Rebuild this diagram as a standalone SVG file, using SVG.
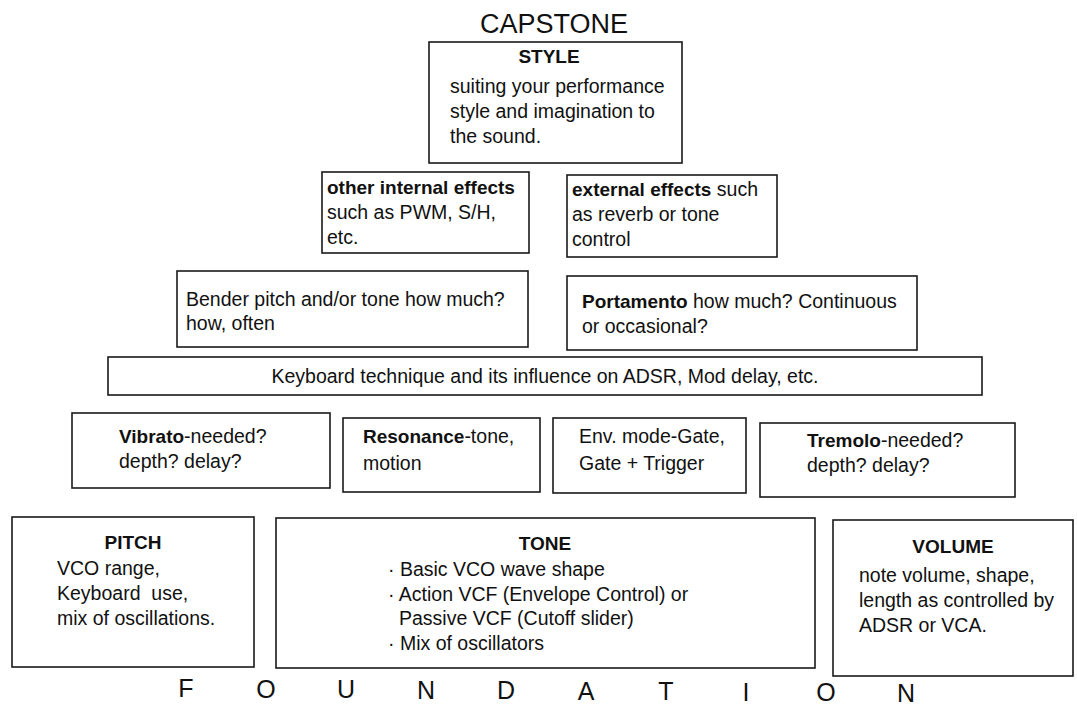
<svg xmlns="http://www.w3.org/2000/svg" width="1077" height="707" viewBox="0 0 1077 707">
<style>
  .box { fill: #fff; stroke: #1a1a1a; stroke-width: 1.6; }
  text { font-family: "Liberation Sans", Arial, sans-serif; fill: #111; }
  .t { font-size: 19.5px; }
  .b { font-size: 19px; font-weight: bold; }
  .c { text-anchor: middle; }
  .cap { font-size: 27px; }
  .f { font-size: 25px; text-anchor: middle; }
  .pre { white-space: pre; }
</style>
<rect width="1077" height="707" fill="#fff"/>
<text class="cap c" x="554" y="33">CAPSTONE</text>
<g id="connectors"></g>
<g id="style">
  <rect class="box" x="429" y="42" width="253" height="121"/>
  <text class="b c" x="549" y="63">STYLE</text>
  <text class="t" x="450" y="93">suiting your performance</text>
  <text class="t" x="450" y="118">style and imagination to</text>
  <text class="t" x="450" y="143">the sound.</text>
</g>
<g id="internal">
  <rect class="box" x="322" y="172" width="207" height="81"/>
  <text class="b" x="327" y="194">other internal effects</text>
  <text class="t" x="327" y="219">such as PWM, S/H,</text>
  <text class="t" x="327" y="244">etc.</text>
</g>
<g id="external">
  <rect class="box" x="567" y="175" width="210" height="82"/>
  <text class="t" x="572" y="196"><tspan class="b">external effects</tspan> such</text>
  <text class="t" x="572" y="221">as reverb or tone</text>
  <text class="t" x="572" y="246">control</text>
</g>
<g id="bender">
  <rect class="box" x="177" y="271" width="351" height="76"/>
  <text class="t" x="186" y="306">Bender pitch and/or tone how much?</text>
  <text class="t" x="186" y="330">how, often</text>
</g>
<g id="portamento">
  <rect class="box" x="567" y="276" width="350" height="74"/>
  <text class="t" x="582" y="308"><tspan class="b">Portamento</tspan> how much? Continuous</text>
  <text class="t" x="582" y="333">or occasional?</text>
</g>
<g id="keyboard">
  <rect class="box" x="108" y="357" width="874" height="38"/>
  <text class="t c" x="545" y="383">Keyboard technique and its influence on ADSR, Mod delay, etc.</text>
</g>
<g id="vibrato">
  <rect class="box" x="72" y="413" width="258" height="75"/>
  <text class="t" x="119" y="443"><tspan class="b">Vibrato</tspan>-needed?</text>
  <text class="t" x="119" y="468">depth? delay?</text>
</g>
<g id="resonance">
  <rect class="box" x="343" y="418" width="197" height="74"/>
  <text class="t" x="363" y="443"><tspan class="b">Resonance</tspan>-tone,</text>
  <text class="t" x="363" y="470">motion</text>
</g>
<g id="envmode">
  <rect class="box" x="553" y="418" width="193" height="75"/>
  <text class="t" x="579" y="443">Env. mode-Gate,</text>
  <text class="t" x="579" y="470">Gate + Trigger</text>
</g>
<g id="tremolo">
  <rect class="box" x="760" y="423" width="255" height="74"/>
  <text class="t" x="807" y="447"><tspan class="b">Tremolo</tspan>-needed?</text>
  <text class="t" x="807" y="472">depth? delay?</text>
</g>
<g id="pitch">
  <rect class="box" x="12" y="517" width="242" height="150"/>
  <text class="b c" x="133" y="549">PITCH</text>
  <text class="t" x="57" y="575">VCO range,</text>
  <text class="t pre" x="57" y="600">Keyboard  use,</text>
  <text class="t" x="57" y="625">mix of oscillations.</text>
</g>
<g id="tone">
  <rect class="box" x="276" y="518" width="539" height="150"/>
  <text class="b c" x="545" y="550">TONE</text>
  <text class="t" x="388" y="576">· Basic VCO wave shape</text>
  <text class="t" x="388" y="601">· Action VCF (Envelope Control) or</text>
  <text class="t" x="399" y="625">Passive VCF (Cutoff slider)</text>
  <text class="t" x="388" y="650">· Mix of oscillators</text>
</g>
<g id="volume">
  <rect class="box" x="833" y="520" width="240" height="156"/>
  <text class="b c" x="953" y="553">VOLUME</text>
  <text class="t" x="859" y="582">note volume, shape,</text>
  <text class="t" x="859" y="607">length as controlled by</text>
  <text class="t" x="859" y="632">ADSR or VCA.</text>
</g>
<g id="foundation">
  <text class="f" x="186" y="697">F</text>
  <text class="f" x="266" y="697.5">O</text>
  <text class="f" x="346" y="698">U</text>
  <text class="f" x="426" y="698.5">N</text>
  <text class="f" x="506" y="699">D</text>
  <text class="f" x="586" y="699.5">A</text>
  <text class="f" x="666" y="700">T</text>
  <text class="f" x="746" y="700.5">I</text>
  <text class="f" x="826" y="701">O</text>
  <text class="f" x="906" y="701.5">N</text>
</g>
</svg>
